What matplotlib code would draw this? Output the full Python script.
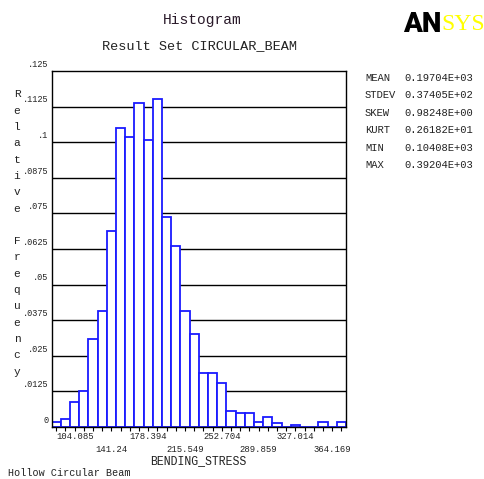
import numpy as np
from matplotlib import pyplot as plt
from matplotlib import transforms

# relative frequency of each bin (32 bins)
freq = [0.0017, 0.0028, 0.0087, 0.0128, 0.0309, 0.0408, 0.0688, 0.1050,
        0.1017, 0.1138, 0.1009, 0.1151, 0.0737, 0.0637, 0.0408, 0.0327,
        0.0189, 0.0189, 0.0156, 0.0056, 0.0048, 0.0048, 0.0016, 0.0036,
        0.0015, 0.0, 0.0008, 0.0, 0.0, 0.0016, 0.0, 0.0016]
xlabels = ["104.085", "141.24", "178.394", "215.549",
           "252.704", "289.859", "327.014", "364.169"]
ylabels = ["0", ".0125", ".025", ".0375", ".05", ".0625",
           ".075", ".0875", ".1", ".1125", ".125"]
stat_names = ["MEAN", "STDEV", "SKEW", "KURT", "MIN", "MAX"]
stat_vals = ["0.19704E+03", "0.37405E+02", "0.98248E+00",
             "0.26182E+01", "0.10408E+03", "0.39204E+03"]

mono = "Liberation Mono"
blue = "#1a1aff"

w = 37.155 / 4
centers = 104.085 + (np.arange(len(freq)) - 2) * w

fig = plt.figure(figsize=(4.84, 4.79), dpi=100)
ax = fig.add_axes([51.7 / 484, 52 / 479, 294.3 / 484, 356 / 479])

ax.set_xlim(centers[0] - w / 2, centers[-1] + w / 2)
ax.set_ylim(0, 0.125)

# horizontal grid lines at every y tick
yt = [float("0" + s) if s != "0" else 0.0 for s in ylabels]
for v in yt[1:-1]:
    ax.axhline(v, color="black", lw=1.0, zorder=1)

ax.bar(centers, freq, width=w, facecolor="white", edgecolor=blue,
       lw=1.3, zorder=2)

for s in ax.spines.values():
    s.set_color("black")
    s.set_linewidth(1.0)

ax.set_yticks([])
ax.set_xticks(centers)
ax.set_xticklabels([])
ax.tick_params(axis="x", direction="out", length=3, width=0.8, color="black")

# y tick labels, sitting just above each line
ylab_tr = transforms.blended_transform_factory(ax.transAxes, ax.transData)
for v, s in zip(yt, ylabels):
    ax.text(-0.012, v + 0.0008, s, transform=ylab_tr, ha="right", va="bottom",
            fontsize=6.2, family=mono, color="#222222")

# x tick labels, staggered on two rows
xlab_tr = transforms.blended_transform_factory(ax.transData, ax.transAxes)
for i, s in enumerate(xlabels):
    yy = -0.028 if i % 2 == 0 else -0.062
    ax.text(float(s), yy, s, transform=xlab_tr, ha="center", va="center",
            fontsize=6.4, family=mono, color="#222222")

fig.text(198 / 484, 1 - 461 / 479, "BENDING_STRESS", ha="center", va="center",
         fontsize=8.3, family=mono, color="#222222")

# stacked vertical axis label
fig.text(17 / 484, 1 - 233 / 479, "\n".join("Relative Frequency"),
         ha="center", va="center", fontsize=8, family=mono,
         linespacing=1.79, color="#222222")

fig.text(202 / 484, 1 - 20 / 479, "Histogram", ha="center", va="center",
         fontsize=10.5, family=mono, color="#2a1a2a")
fig.text(199 / 484, 1 - 46 / 479, "Result Set CIRCULAR_BEAM", ha="center",
         va="center", fontsize=9.7, family=mono, color="#222222")

for i, (n, v) in enumerate(zip(stat_names, stat_vals)):
    yy = 1 - (78 + i * 17.4) / 479
    fig.text(365 / 484, yy, n, ha="left", va="center", fontsize=7.6,
             family=mono, color="#222222")
    fig.text(404 / 484, yy, v, ha="left", va="center", fontsize=7.6,
             family=mono, color="#222222")

fig.text(8 / 484, 1 - 473 / 479, "Hollow Circular Beam", ha="left",
         va="center", fontsize=7.3, family=mono, color="#222222")

# logo
fig.text(403 / 484, 1 - 25 / 479, "AN", ha="left", va="center", fontsize=20,
         fontweight="heavy", family="Roboto", color="black")
fig.text(441 / 484, 1 - 25 / 479, "SYS", ha="left", va="center", fontsize=17,
         family="Liberation Serif", color="#ffff00")

fig.savefig("out.png", dpi=100)
